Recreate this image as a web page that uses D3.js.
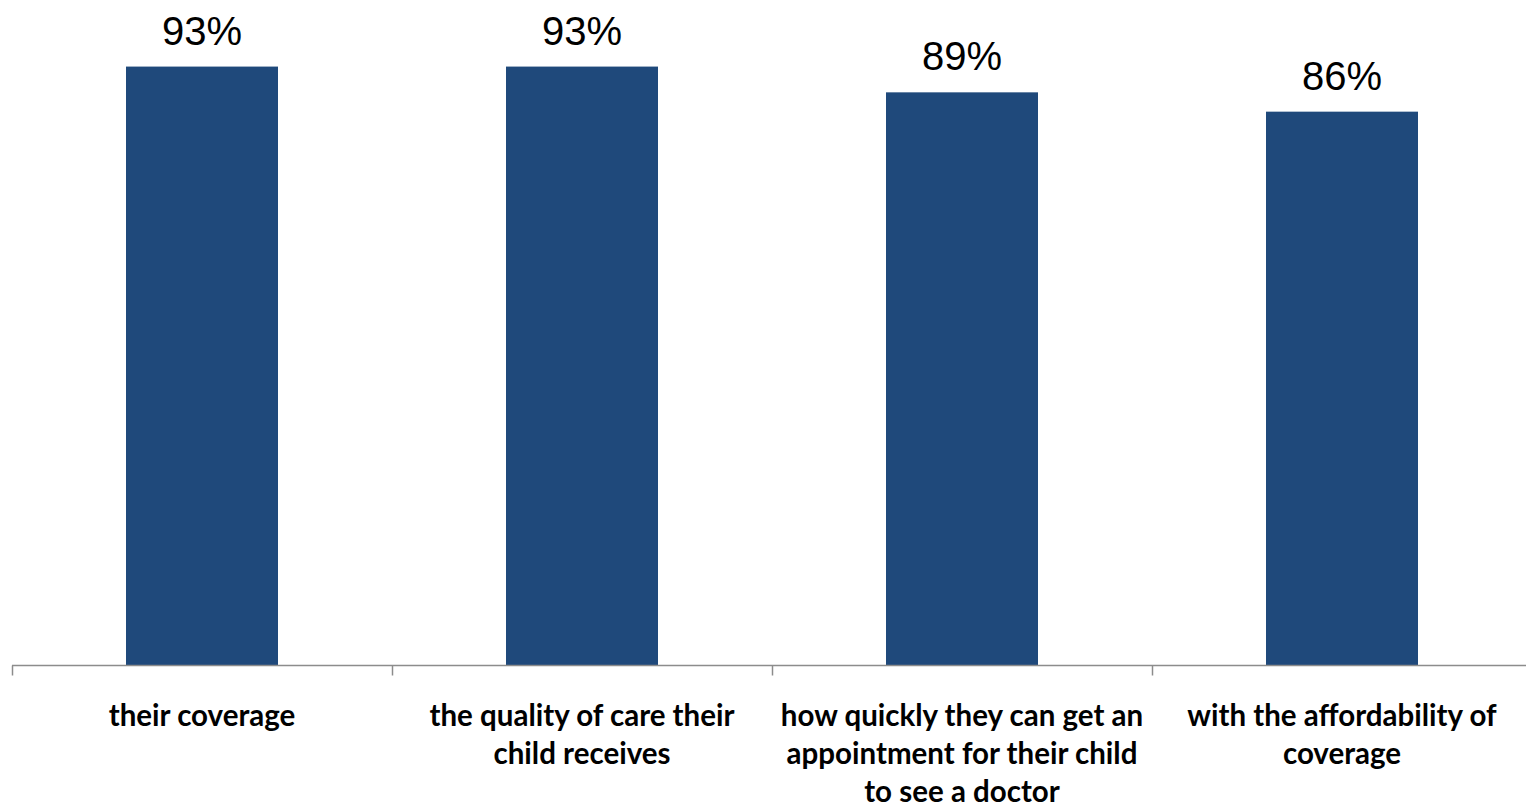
<!DOCTYPE html>
<html><head><meta charset="utf-8">
<script src="https://cdn.jsdelivr.net/npm/d3@7"></script>
<style>html,body{margin:0;padding:0;background:#fff;overflow:hidden}</style>
</head><body>
<svg id="chart" width="1526" height="807"></svg>
<script>
const categories = [
  ["their coverage"],
  ["the quality of care their", "child receives"],
  ["how quickly they can get an", "appointment for their child", "to see a doctor"],
  ["with the affordability of", "coverage"]
];
const values = [93, 93, 89, 86];
const valueLabels = ["93%", "93%", "89%", "86%"];

const svg = d3.select("#chart");
const keys = categories.map((c, i) => i);
const x = d3.scaleBand().domain(keys).range([12, 1532]).paddingInner(0.6).paddingOuter(0.3);
const y = d3.scaleLinear().domain([0, 100]).range([665.5, 21.5]);

// bars
svg.selectAll("rect.bar").data(values).join("rect")
  .attr("class", "bar")
  .attr("x", (d, i) => x(i))
  .attr("width", x.bandwidth())
  .attr("y", d => y(d))
  .attr("height", d => y(0) - y(d))
  .attr("fill", "#1F497B");

// axis
const band = d3.scaleBand().domain(keys).range([12, 1532]);
const axisG = svg.append("g").attr("transform", `translate(0,${y(0)})`);
axisG.append("line").attr("x1", 12).attr("x2", 1526).attr("y1", 0).attr("y2", 0)
  .attr("stroke", "#8c8c8c").attr("stroke-width", 1.5);
const tickXs = keys.map(k => band(k)).concat([1532]);
axisG.selectAll("line.tick").data(tickXs).join("line")
  .attr("class", "tick")
  .attr("x1", d => d + 0.5).attr("x2", d => d + 0.5)
  .attr("y1", 0).attr("y2", 10)
  .attr("stroke", "#8c8c8c").attr("stroke-width", 1.5);

// value labels
svg.selectAll("text.val").data(values).join("text")
  .attr("class", "val")
  .attr("x", (d, i) => x(i) + x.bandwidth() / 2)
  .attr("y", d => y(d) - 22)
  .attr("text-anchor", "middle")
  .attr("font-family", "Liberation Sans, Arial, sans-serif")
  .attr("font-size", 40)
  .attr("fill", "#000")
  .text((d, i) => valueLabels[i]);

// category labels
const catG = svg.selectAll("text.cat").data(categories).join("text")
  .attr("class", "cat")
  .attr("text-anchor", "middle")
  .attr("font-family", "Lato, Calibri, sans-serif")
  .attr("font-weight", "bold")
  .attr("font-size", 29.5)
  .attr("fill", "#000");
catG.each(function(lines, i) {
  const cx = x(i) + x.bandwidth() / 2;
  d3.select(this).selectAll("tspan").data(lines).join("tspan")
    .attr("x", cx)
    .attr("y", (l, j) => 726 + j * 38)
    .text(l => l);
});
</script>
</body></html>
